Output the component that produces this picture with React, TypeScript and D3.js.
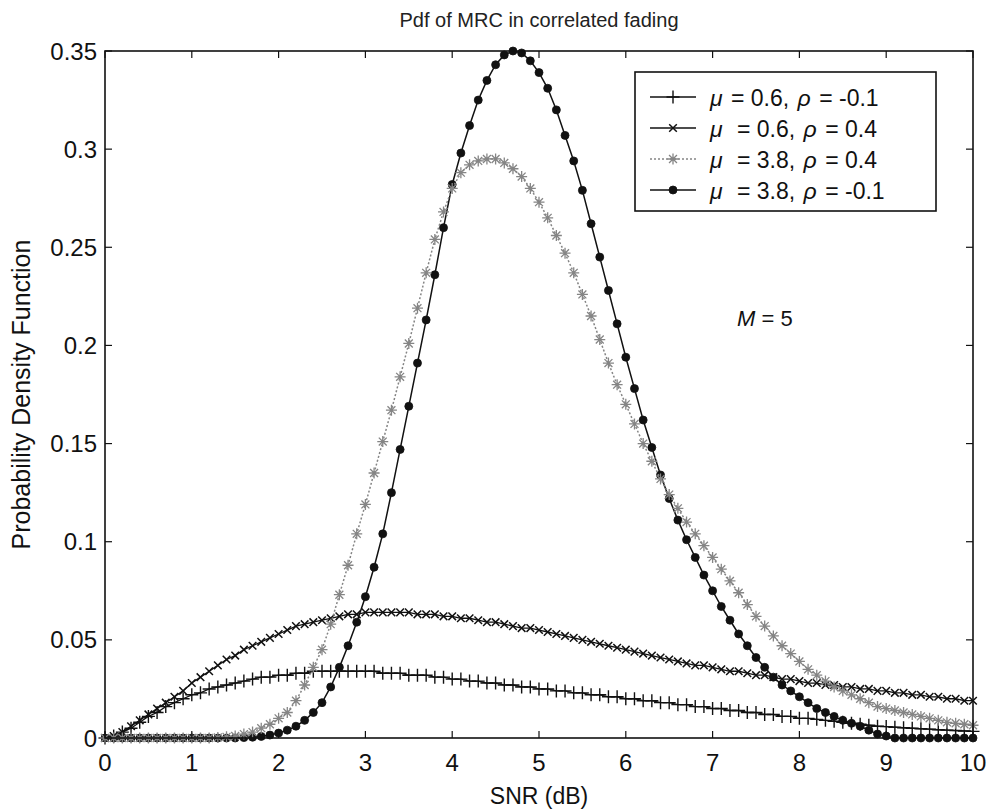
import React from "react";
import * as d3 from "d3";

const SNR_STEP = 0.1;
const SNR_DB = d3.range(0, 101).map((i) => +(i * SNR_STEP).toFixed(1));

const X_TICKS = [0, 1, 2, 3, 4, 5, 6, 7, 8, 9, 10];
const Y_TICKS = [0, 0.05, 0.1, 0.15, 0.2, 0.25, 0.3, 0.35];
const Y_TICK_LABELS = ["0", "0.05", "0.1", "0.15", "0.2", "0.25", "0.3", "0.35"];

// mu = 0.6, rho = -0.1
const PDF_A = [
  0, 0.001, 0.003, 0.005, 0.008, 0.011, 0.013, 0.016, 0.018, 0.02,
  0.022, 0.023, 0.025, 0.026, 0.027, 0.028, 0.029, 0.03, 0.031, 0.031,
  0.032, 0.032, 0.033, 0.033, 0.034, 0.034, 0.034, 0.034, 0.034, 0.034,
  0.034, 0.034, 0.033, 0.033, 0.033, 0.032, 0.032, 0.032, 0.031, 0.031,
  0.03, 0.03, 0.029, 0.029, 0.028, 0.028, 0.027, 0.027, 0.026, 0.026,
  0.025, 0.025, 0.024, 0.024, 0.023, 0.023, 0.022, 0.022, 0.021, 0.021,
  0.02, 0.02, 0.019, 0.019, 0.018, 0.018, 0.017, 0.017, 0.016, 0.016,
  0.015, 0.015, 0.014, 0.014, 0.013, 0.013, 0.012, 0.012, 0.011, 0.011,
  0.01, 0.01, 0.0095, 0.009, 0.0085, 0.008, 0.0075, 0.007, 0.0065, 0.006,
  0.0058, 0.0055, 0.0052, 0.005, 0.0047, 0.0045, 0.0042, 0.004, 0.0038, 0.0036,
  0.0034,
];

// mu = 0.6, rho = 0.4
const PDF_B = [
  0, 0.001, 0.003, 0.006, 0.009, 0.012, 0.015, 0.018, 0.021, 0.024,
  0.028, 0.031, 0.034, 0.037, 0.04, 0.042, 0.045, 0.047, 0.049, 0.051,
  0.053, 0.055, 0.057, 0.058, 0.059, 0.06, 0.061, 0.062, 0.063, 0.063,
  0.064, 0.064, 0.064, 0.064, 0.064, 0.064, 0.063, 0.063, 0.063, 0.062,
  0.062, 0.061, 0.061, 0.06, 0.059, 0.059, 0.058, 0.057, 0.056, 0.056,
  0.055, 0.054, 0.053, 0.052, 0.051, 0.05, 0.049, 0.048, 0.047, 0.046,
  0.045, 0.044, 0.043, 0.042, 0.041, 0.04, 0.039, 0.038, 0.037, 0.037,
  0.036, 0.035, 0.034, 0.034, 0.033, 0.032, 0.032, 0.031, 0.03, 0.03,
  0.029, 0.028, 0.028, 0.027, 0.027, 0.026, 0.026, 0.025, 0.025, 0.024,
  0.024, 0.023, 0.023, 0.022, 0.022, 0.021, 0.021, 0.02, 0.02, 0.019,
  0.019,
];

// mu = 3.8, rho = 0.4
const PDF_C = [
  0, 0, 0, 0, 0, 0, 0, 0, 0, 0,
  0, 0, 0, 0.0003, 0.0006, 0.001, 0.002, 0.003, 0.005, 0.007,
  0.01, 0.013, 0.019, 0.027, 0.036, 0.045, 0.058, 0.073, 0.088, 0.104,
  0.119, 0.135, 0.151, 0.167, 0.184, 0.201, 0.219, 0.237, 0.254, 0.268,
  0.28, 0.288, 0.292, 0.294, 0.295, 0.295, 0.293, 0.29, 0.286, 0.28,
  0.273, 0.265, 0.256, 0.247, 0.237, 0.226, 0.215, 0.203, 0.191, 0.18,
  0.17, 0.16, 0.15, 0.141, 0.132, 0.124, 0.117, 0.11, 0.104, 0.098,
  0.092, 0.086, 0.08, 0.074, 0.068, 0.062, 0.057, 0.052, 0.047, 0.043,
  0.039, 0.035, 0.032, 0.029, 0.026, 0.024, 0.022, 0.02, 0.018, 0.016,
  0.015, 0.014, 0.013, 0.012, 0.011, 0.01, 0.009, 0.008, 0.0075, 0.007,
  0.0065,
];

// mu = 3.8, rho = -0.1
const PDF_D = [
  0, 0, 0, 0, 0, 0, 0, 0, 0, 0,
  0, 0, 0, 0, 0, 0, 0.0002, 0.0004, 0.0008, 0.0015,
  0.0025, 0.004, 0.006, 0.009, 0.013, 0.018, 0.026, 0.036, 0.047, 0.059,
  0.072, 0.087, 0.104, 0.125, 0.147, 0.169, 0.191, 0.213, 0.236, 0.26,
  0.282, 0.298, 0.312, 0.325, 0.335, 0.343, 0.348, 0.35, 0.349, 0.345,
  0.339, 0.331, 0.32, 0.307, 0.294, 0.279, 0.262, 0.245, 0.228, 0.211,
  0.194, 0.178, 0.162, 0.148, 0.134, 0.122, 0.111, 0.101, 0.092, 0.083,
  0.075, 0.067, 0.06, 0.053, 0.047, 0.041, 0.036, 0.031, 0.027, 0.024,
  0.021, 0.018, 0.015, 0.013, 0.011, 0.009, 0.0075, 0.006, 0.004, 0.002,
  0.001, 0, 0, 0, 0, 0, 0, 0, 0, 0,
  0,
];

const SERIES_NAMES = [
  { mu: "0.6", rho: "-0.1", gap: 0 },
  { mu: "0.6", rho: "0.4", gap: 6 },
  { mu: "3.8", rho: "0.4", gap: 6 },
  { mu: "3.8", rho: "-0.1", gap: 6 },
];

const FONT = "'Liberation Sans', Arial, Helvetica, sans-serif";
const W = 991;
const H = 811;
const PLOT = { left: 105, right: 973, top: 51, bottom: 738 };

type MarkerKind = "plus" | "x" | "star" | "dot";

function Marker({ kind, cx, cy, color }: { kind: MarkerKind; cx: number; cy: number; color: string }) {
  if (kind === "dot") return <circle cx={cx} cy={cy} r={4} fill={color} stroke={color} strokeWidth={0.8} />;
  if (kind === "plus") {
    const s = 6.5;
    return <path d={`M${cx - s},${cy}L${cx + s},${cy}M${cx},${cy - s}L${cx},${cy + s}`} stroke={color} strokeWidth={1.4} fill="none" />;
  }
  if (kind === "x") {
    const s = 3.8;
    return <path d={`M${cx - s},${cy - s}L${cx + s},${cy + s}M${cx - s},${cy + s}L${cx + s},${cy - s}`} stroke={color} strokeWidth={1.5} fill="none" />;
  }
  const s = 5.5;
  const k = s * 0.72;
  return (
    <path
      d={`M${cx - s},${cy}L${cx + s},${cy}M${cx},${cy - s}L${cx},${cy + s}M${cx - k},${cy - k}L${cx + k},${cy + k}M${cx - k},${cy + k}L${cx + k},${cy - k}`}
      stroke={color}
      strokeWidth={1.3}
      fill="none"
    />
  );
}

export default function App() {
  const x = d3.scaleLinear().domain([0, 10]).range([PLOT.left, PLOT.right]);
  const y = d3.scaleLinear().domain([0, 0.35]).range([PLOT.bottom, PLOT.top]);

  const series = [
    { data: PDF_A, kind: "plus" as MarkerKind, color: "#111", dash: "none", width: 1.3 },
    { data: PDF_B, kind: "x" as MarkerKind, color: "#111", dash: "none", width: 1.3 },
    { data: PDF_C, kind: "star" as MarkerKind, color: "#858585", dash: "2,2", width: 1.5 },
    { data: PDF_D, kind: "dot" as MarkerKind, color: "#111", dash: "none", width: 1.5 },
  ];

  const line = d3
    .line<number>()
    .x((_, i) => x(SNR_DB[i]))
    .y((d) => y(d));

  const tickLen = 7;
  const legend = { x: 635, y: 72, w: 301, h: 139 };
  const rowY = [97, 128, 159, 190];
  const drawOrder = [0, 1, 3, 2];

  return (
    <svg width={W} height={H} style={{ position: "absolute", left: 0, top: 0, background: "#fff" }} fontFamily={FONT}>
      <rect x={0} y={0} width={W} height={H} fill="#fff" />
      <text x={(PLOT.left + PLOT.right) / 2} y={27} textAnchor="middle" fontSize={20} fill="#222">
        Pdf of MRC in correlated fading
      </text>

      {/* series */}
      {drawOrder.map((si) => {
        const s = series[si];
        return (
          <g key={si}>
            <path d={line(s.data) || ""} fill="none" stroke={s.color} strokeWidth={s.width} strokeDasharray={s.dash} />
            {s.data.map((v, i) => (
              <Marker key={i} kind={s.kind} cx={x(SNR_DB[i])} cy={y(v)} color={s.color} />
            ))}
          </g>
        );
      })}

      {/* axes box */}
      <rect x={PLOT.left} y={PLOT.top} width={PLOT.right - PLOT.left} height={PLOT.bottom - PLOT.top} fill="none" stroke="#111" strokeWidth={1.6} />
      {X_TICKS.map((t) => (
        <g key={"xt" + t}>
          <line x1={x(t)} x2={x(t)} y1={PLOT.bottom} y2={PLOT.bottom - tickLen} stroke="#111" strokeWidth={1.2} />
          <line x1={x(t)} x2={x(t)} y1={PLOT.top} y2={PLOT.top + tickLen} stroke="#111" strokeWidth={1.2} />
          <text x={x(t)} y={771} textAnchor="middle" fontSize={24} fill="#111">
            {t}
          </text>
        </g>
      ))}
      {Y_TICKS.map((t, i) => (
        <g key={"yt" + t}>
          <line x1={PLOT.left} x2={PLOT.left + tickLen} y1={y(t)} y2={y(t)} stroke="#111" strokeWidth={1.2} />
          <line x1={PLOT.right} x2={PLOT.right - tickLen} y1={y(t)} y2={y(t)} stroke="#111" strokeWidth={1.2} />
          <text x={97} y={y(t) + 8.5} textAnchor="end" fontSize={24} fill="#111">
            {Y_TICK_LABELS[i]}
          </text>
        </g>
      ))}

      <text x={(PLOT.left + PLOT.right) / 2} y={804} textAnchor="middle" fontSize={23} fill="#111">
        SNR (dB)
      </text>
      <text transform={`translate(30, ${(PLOT.top + PLOT.bottom) / 2}) rotate(-90)`} textAnchor="middle" fontSize={25} fill="#111">
        Probability Density Function
      </text>

      <text x={737} y={326} fontSize={22} fill="#111">
        <tspan fontStyle="italic">M</tspan> = 5
      </text>

      {/* legend */}
      <rect x={legend.x} y={legend.y} width={legend.w} height={legend.h} fill="#fff" stroke="#111" strokeWidth={1.6} />
      {series.map((s, i) => (
        <g key={"lg" + i}>
          <line x1={650} x2={696} y1={rowY[i]} y2={rowY[i]} stroke={s.color} strokeWidth={s.width} strokeDasharray={s.dash} />
          <Marker kind={s.kind} cx={673} cy={rowY[i]} color={s.color} />
          <text x={710} y={rowY[i] + 8.5} fontSize={23} fill="#111">
            <tspan fontStyle="italic">μ</tspan>
            <tspan dx={SERIES_NAMES[i].gap + 2}>{` = ${SERIES_NAMES[i].mu}, `}</tspan>
            <tspan fontStyle="italic" dx={2}>ρ</tspan>
            <tspan dx={2}>{` = ${SERIES_NAMES[i].rho}`}</tspan>
          </text>
        </g>
      ))}
    </svg>
  );
}
